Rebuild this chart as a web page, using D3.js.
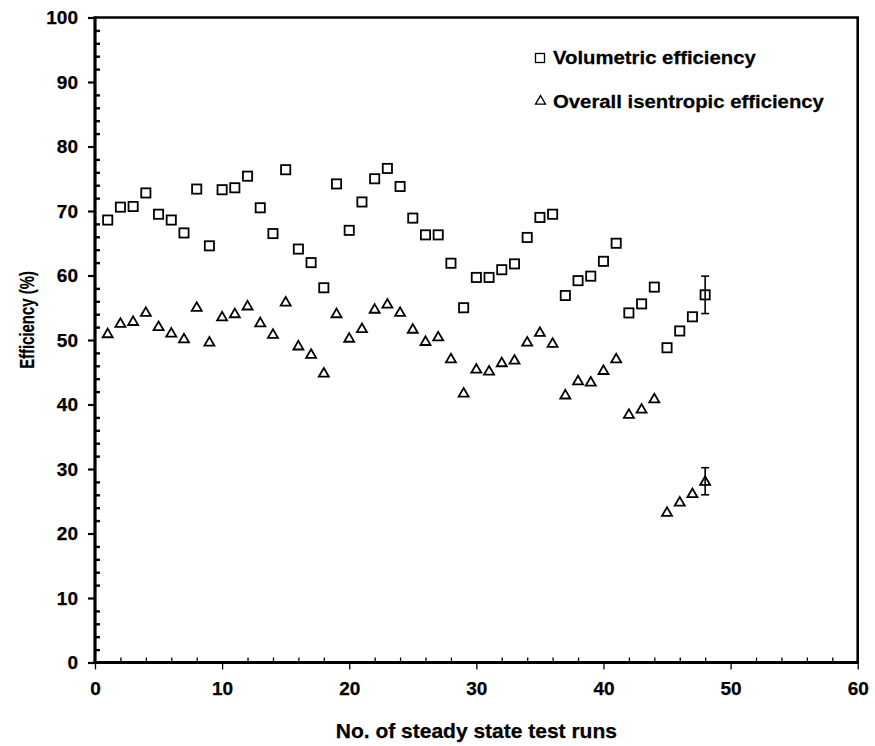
<!DOCTYPE html>
<html>
<head>
<meta charset="utf-8">
<script src="https://cdn.jsdelivr.net/npm/d3@7"></script>
<style>
  html, body { margin: 0; padding: 0; background: #fff; }
  svg { display: block; }
  text { font-family: "Liberation Sans", Arial, sans-serif; font-weight: bold; fill: #000; stroke: #000; stroke-width: 0.25; }
</style>
</head>
<body>
<svg id="chart" width="875" height="746"></svg>
<script>
// ---- data ----
const runs = [1,2,3,4,5,6,7,8,9,10,11,12,13,14,15,16,17,18,19,20,21,22,23,24,
              25,26,27,28,29,30,31,32,33,34,35,36,37,38,39,40,41,42,43,44,45,46,47,48];
const volumetric = [68.6,70.6,70.7,72.8,69.5,68.6,66.6,73.4,64.6,73.3,73.6,75.4,70.5,66.5,76.4,64.1,
                    62.0,58.1,74.2,67.0,71.4,75.0,76.6,73.8,68.9,66.3,66.3,61.9,55.0,59.7,59.7,60.9,
                    61.8,65.9,69.0,69.5,56.9,59.2,59.9,62.2,65.0,54.2,55.6,58.2,48.8,51.4,53.6,57.0];
const isentropic = [51.0,52.6,52.9,54.3,52.1,51.1,50.2,55.1,49.7,53.6,54.1,55.3,52.7,50.9,55.9,49.1,
                    47.8,44.9,54.1,50.3,51.8,54.8,55.6,54.3,51.7,49.8,50.5,47.1,41.8,45.5,45.2,46.5,
                    46.9,49.7,51.2,49.5,41.5,43.7,43.5,45.3,47.1,38.5,39.3,40.9,23.3,24.9,26.2,28.1];
const errorRun = [48];
const volumetricError = [2.9];
const isentropicError = [2.1];
const xMajorTicks = [0,10,20,30,40,50,60];
const xMinorTicks = [2,4,6,8,12,14,16,18,22,24,26,28,32,34,36,38,42,44,46,48,52,54,56,58];
const yMajorTicks = [0,10,20,30,40,50,60,70,80,90,100];
const yMinorTicks = [2,4,6,8,12,14,16,18,22,24,26,28,32,34,36,38,42,44,46,48,52,54,56,58,
                     62,64,66,68,72,74,76,78,82,84,86,88,92,94,96,98];
const legendLabels = ["Volumetric efficiency", "Overall isentropic efficiency"];
const xTitle = "No. of steady state test runs";
const yTitle = "Efficiency (%)";

// ---- layout ----
const svg = d3.select("#chart");
const mLeft = 95, mRight = 857.7, mTop = 17.5, mBottom = 662.5;
const x = d3.scaleLinear().domain([0, 60]).range([mLeft, mRight]);
const y = d3.scaleLinear().domain([0, 100]).range([mBottom, mTop]);

// plot frame (top & right)
svg.append("path")
  .attr("d", `M${mLeft},${mTop} H${mRight} V${mBottom}`)
  .attr("fill", "none").attr("stroke", "#000").attr("stroke-width", 2.6);

// x axis: major (outside), minor (inside)
const gxMinor = svg.append("g").attr("transform", `translate(0,${mBottom})`)
  .call(d3.axisBottom(x).tickValues(xMinorTicks).tickSize(-5).tickFormat(""));
const gxMajor = svg.append("g").attr("transform", `translate(0,${mBottom})`)
  .call(d3.axisBottom(x).tickValues(xMajorTicks).tickSize(7).tickPadding(12).tickFormat(d3.format("d")));
// y axis
const gyMinor = svg.append("g").attr("transform", `translate(${mLeft},0)`)
  .call(d3.axisLeft(y).tickValues(yMinorTicks).tickSize(-5).tickFormat(""));
const gyMajor = svg.append("g").attr("transform", `translate(${mLeft},0)`)
  .call(d3.axisLeft(y).tickValues(yMajorTicks).tickSize(7).tickPadding(10).tickFormat(d3.format("d")));

[gxMinor, gxMajor, gyMinor, gyMajor].forEach(g => {
  g.select(".domain").remove();
  g.selectAll(".tick line").attr("stroke", "#000").attr("stroke-width", 1.3);
  g.selectAll(".tick text").attr("font-size", 19).attr("font-family", '"Liberation Sans", Arial, sans-serif')
    .attr("font-weight", "bold").attr("fill", "#000");
});
gyMinor.selectAll(".tick line").attr("stroke-width", 2.4);
gyMajor.selectAll(".tick line").attr("stroke-width", 2.2);

// axis lines (thick)
svg.append("line").attr("x1", mLeft).attr("x2", mLeft).attr("y1", mTop - 1.3).attr("y2", mBottom + 1.5)
  .attr("stroke", "#000").attr("stroke-width", 3.2);
svg.append("line").attr("x1", mLeft - 1.5).attr("x2", mRight + 1.3).attr("y1", mBottom).attr("y2", mBottom)
  .attr("stroke", "#000").attr("stroke-width", 3.2);

// axis titles
svg.append("text").attr("x", (mLeft + mRight) / 2).attr("y", 738)
  .attr("text-anchor", "middle").attr("font-size", 21).text(xTitle);
svg.append("text")
  .attr("transform", `translate(34,320) rotate(-90) scale(0.71,1)`)
  .attr("text-anchor", "middle").attr("font-size", 21).text(yTitle);

// markers
const sq = 9.2;
const triPath = (cx, cy, s) => {
  const h = s * 0.82;
  return `M${cx},${cy - h * 0.6} L${cx + s / 2},${cy + h * 0.45} L${cx - s / 2},${cy + h * 0.45} Z`;
};

// error bars
const errData = errorRun.map((r, i) => ({ r, v: volumetric[runs.indexOf(r)], ve: volumetricError[i],
                                            s: isentropic[runs.indexOf(r)], se: isentropicError[i] }));
const eg = svg.append("g").attr("stroke", "#000").attr("stroke-width", 1.6);
errData.forEach(d => {
  [[d.v, d.ve], [d.s, d.se]].forEach(([v, e]) => {
    const cx = x(d.r);
    eg.append("line").attr("x1", cx).attr("x2", cx).attr("y1", y(v + e)).attr("y2", y(v - e));
    eg.append("line").attr("x1", cx - 4).attr("x2", cx + 4).attr("y1", y(v + e)).attr("y2", y(v + e));
    eg.append("line").attr("x1", cx - 4).attr("x2", cx + 4).attr("y1", y(v - e)).attr("y2", y(v - e));
  });
});

svg.append("g").selectAll("rect").data(runs).join("rect")
  .attr("x", (d, i) => x(d) - sq / 2).attr("y", (d, i) => y(volumetric[i]) - sq / 2)
  .attr("width", sq).attr("height", sq)
  .attr("fill", "none").attr("stroke", "#000").attr("stroke-width", 1.8);

svg.append("g").selectAll("path").data(runs).join("path")
  .attr("d", (d, i) => triPath(x(d), y(isentropic[i]), 10))
  .attr("fill", "none").attr("stroke", "#000").attr("stroke-width", 1.8).attr("stroke-linejoin", "miter");

// legend
const lg = svg.append("g");
lg.append("rect").attr("x", 540 - 4.5).attr("y", 58 - 4.5).attr("width", 9).attr("height", 9)
  .attr("fill", "none").attr("stroke", "#000").attr("stroke-width", 1.3);
lg.append("path").attr("d", triPath(540.5, 100.5, 10))
  .attr("fill", "none").attr("stroke", "#000").attr("stroke-width", 1.3);
lg.append("text").attr("x", 553).attr("y", 64.5).attr("font-size", 19)
  .attr("transform", "translate(553,0) scale(1.07,1) translate(-553,0)").text(legendLabels[0]);
lg.append("text").attr("x", 553).attr("y", 108.5).attr("font-size", 19)
  .attr("transform", "translate(553,0) scale(1.07,1) translate(-553,0)").text(legendLabels[1]);
</script>
</body>
</html>
